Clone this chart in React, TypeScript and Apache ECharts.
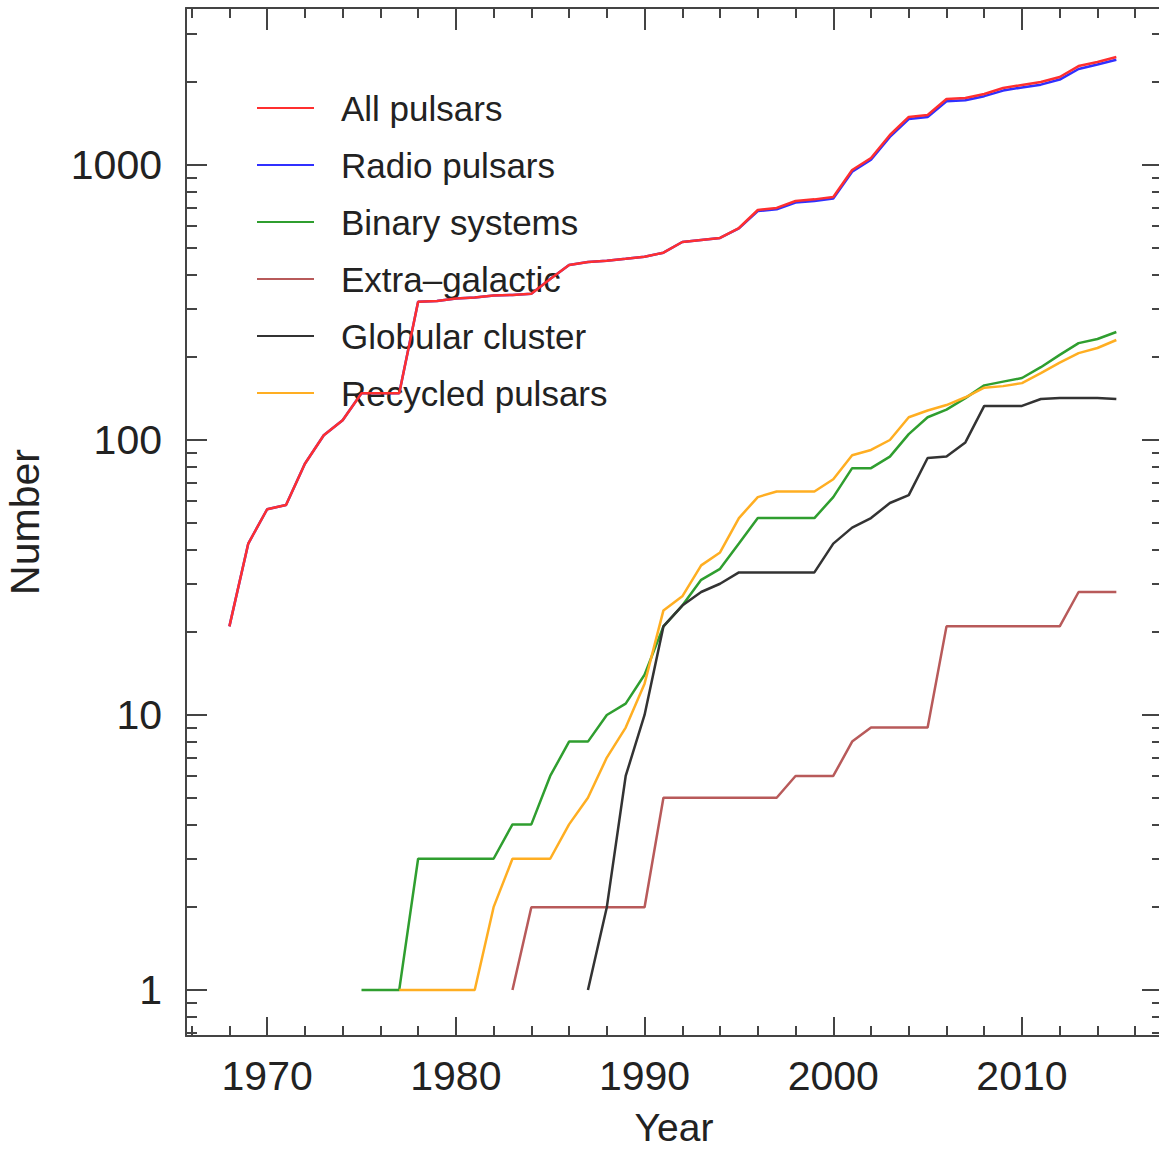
import React, { useEffect, useRef } from 'react';
import * as echarts from 'echarts';

// ---- Data ----
const allStart = 1968;
const allPulsars = [
  21, 42, 56, 58, 82, 104, 118, 148, 148, 148, 318, 320, 327, 330, 335, 337, 340, 385, 433, 444,
  449, 456, 464, 480, 525, 534, 543, 590, 686, 698, 740, 750, 765, 959, 1060, 1286, 1496, 1520,
  1739, 1753, 1813, 1905, 1955, 2004, 2090, 2290, 2371, 2470,
];
const radioStart = 1968;
const radioPulsars = [
  21, 42, 56, 58, 82, 104, 118, 148, 148, 148, 318, 320, 327, 330, 335, 337, 340, 385, 433, 444,
  449, 456, 464, 480, 525, 534, 543, 588, 680, 690, 730, 740, 755, 945, 1045, 1265, 1470, 1495,
  1705, 1720, 1780, 1865, 1915, 1960, 2045, 2235, 2320, 2415,
];
const binaryStart = 1975;
const binarySystems = [
  1, 1, 1, 3, 3, 3, 3, 3, 4, 4, 6, 8, 8, 10, 11, 14, 21, 25, 31, 34, 42, 52, 52, 52, 52, 62, 79,
  79, 87, 105, 121, 129, 142, 158, 163, 168, 184, 204, 225, 233, 247,
];
const extraStart = 1983;
const extraGalactic = [
  1, 2, 2, 2, 2, 2, 2, 2, 5, 5, 5, 5, 5, 5, 5, 6, 6, 6, 8, 9, 9, 9, 9, 21, 21, 21, 21, 21, 21, 21,
  28, 28, 28,
];
const globularStart = 1987;
const globularCluster = [
  1, 2, 6, 10, 21, 25, 28, 30, 33, 33, 33, 33, 33, 42, 48, 52, 59, 63, 86, 87, 98, 133, 133, 133,
  141, 142, 142, 142, 141,
];
const recycledStart = 1977;
const recycledPulsars = [
  1, 1, 1, 1, 1, 2, 3, 3, 3, 4, 5, 7, 9, 13, 24, 27, 35, 39, 52, 62, 65, 65, 65, 72, 88, 92, 100,
  121, 128, 134, 143, 155, 157, 161, 175, 191, 207, 216, 231,
];

const seriesNames = [
  'All pulsars',
  'Radio pulsars',
  'Binary systems',
  'Extra\u2013galactic',
  'Globular cluster',
  'Recycled pulsars',
];

// Tick values
const xMajorTicks = [1970, 1980, 1990, 2000, 2010];
const xMinorTicks = [1966, 1968, 1972, 1974, 1976, 1978, 1982, 1984, 1986, 1988, 1992, 1994, 1996, 1998, 2002, 2004, 2006, 2008, 2012, 2014, 2016];
const yMajorTicks = [1, 10, 100, 1000];
const yMinorTicks = [0.7, 0.8, 0.9, 2, 3, 4, 5, 6, 7, 8, 9, 20, 30, 40, 50, 60, 70, 80, 90, 200, 300, 400, 500, 600, 700, 800, 900, 2000, 3000];

const toPairs = (start: number, vals: number[]) => vals.map((v, i) => [start + i, v]);

const FONT = '"Liberation Sans", Arial, Helvetica, sans-serif';
const AXIS_COLOR = '#444';

export default function App() {
  const ref = useRef<HTMLDivElement>(null);
  useEffect(() => {
    if (!ref.current) return;
    const chart = echarts.init(ref.current, null, { renderer: 'svg' });

    const xCommon = {
      type: 'value',
      min: 1965.7,
      max: 2017.42,
      splitLine: { show: false },
    };
    const yCommon = {
      type: 'log',
      logBase: 10,
      min: 0.68,
      max: 3724,
      splitLine: { show: false },
    };
    const line = (show: boolean) => ({ show, onZero: false, lineStyle: { color: AXIS_COLOR, width: 2 } });
    const tick = (values: number[], length: number) => ({
      show: true,
      inside: true,
      length,
      customValues: values,
      lineStyle: { color: AXIS_COLOR, width: 2 },
    });

    const mk = (name: string, start: number, vals: number[], color: string, z: number) => ({
      name,
      type: 'line',
      xAxisIndex: 0,
      yAxisIndex: 0,
      data: toPairs(start, vals),
      symbol: 'none',
      showSymbol: false,
      lineStyle: { color, width: 2.5 },
      itemStyle: { color },
      z,
    });

    chart.setOption({
      animation: false,
      backgroundColor: '#ffffff',
      grid: { left: 186, right: -3, top: 8, bottom: 113, containLabel: false, outerBoundsMode: 'none' },
      legend: {
        orient: 'vertical',
        left: 256,
        top: 88,
        padding: 0,
        itemWidth: 57,
        itemHeight: 4,
        itemGap: 17,
        itemStyle: { opacity: 0 },
        data: seriesNames,
        textStyle: {
          fontSize: 35,
          fontFamily: FONT,
          color: '#222',
          lineHeight: 40,
          padding: [0, 0, 0, 22],
        },
      },
      xAxis: [
        {
          ...xCommon,
          position: 'bottom',
          axisLine: line(true),
          axisTick: tick(xMajorTicks, 19),
          axisLabel: {
            customValues: xMajorTicks,
            formatter: (v: number) => String(v),
            fontSize: 41,
            fontFamily: FONT,
            color: '#222',
            margin: 19,
          },
          name: 'Year',
          nameLocation: 'middle',
          nameGap: 74,
          nameTextStyle: { fontSize: 39, lineHeight: 34, fontFamily: FONT, color: '#222' },
        },
        { ...xCommon, position: 'bottom', axisLine: line(false), axisTick: tick(xMinorTicks, 10), axisLabel: { show: false } },
        { ...xCommon, position: 'top', axisLine: line(true), axisTick: tick(xMajorTicks, 22), axisLabel: { show: false } },
        { ...xCommon, position: 'top', axisLine: line(false), axisTick: tick(xMinorTicks, 10), axisLabel: { show: false } },
      ],
      yAxis: [
        {
          ...yCommon,
          position: 'left',
          axisLine: line(true),
          axisTick: tick(yMajorTicks, 21),
          axisLabel: {
            customValues: yMajorTicks,
            formatter: (v: number) => String(Math.round(v)),
            fontSize: 41,
            fontFamily: FONT,
            color: '#222',
            margin: 24,
          },
          name: 'Number',
          nameLocation: 'middle',
          nameGap: 141,
          nameTextStyle: { fontSize: 41, fontFamily: FONT, color: '#222' },
        },
        { ...yCommon, position: 'left', axisLine: line(false), axisTick: tick(yMinorTicks, 11), axisLabel: { show: false } },
        { ...yCommon, position: 'right', axisLine: line(true), axisTick: tick(yMajorTicks, 20), axisLabel: { show: false } },
        { ...yCommon, position: 'right', axisLine: line(false), axisTick: tick(yMinorTicks, 10), axisLabel: { show: false } },
      ],
      series: [
        mk(seriesNames[0], allStart, allPulsars, '#ff2f2f', 4),
        mk(seriesNames[1], radioStart, radioPulsars, '#3030ff', 3),
        mk(seriesNames[2], binaryStart, binarySystems, '#2f9e2f', 3),
        mk(seriesNames[3], extraStart, extraGalactic, '#b85a5a', 3),
        mk(seriesNames[4], globularStart, globularCluster, '#333333', 3),
        mk(seriesNames[5], recycledStart, recycledPulsars, '#ffae22', 3),
      ],
    });
    return () => chart.dispose();
  }, []);

  return (
    <div
      ref={ref}
      style={{ position: 'fixed', left: 0, top: 0, width: 1159, height: 1149, overflow: 'hidden' }}
    />
  );
}
